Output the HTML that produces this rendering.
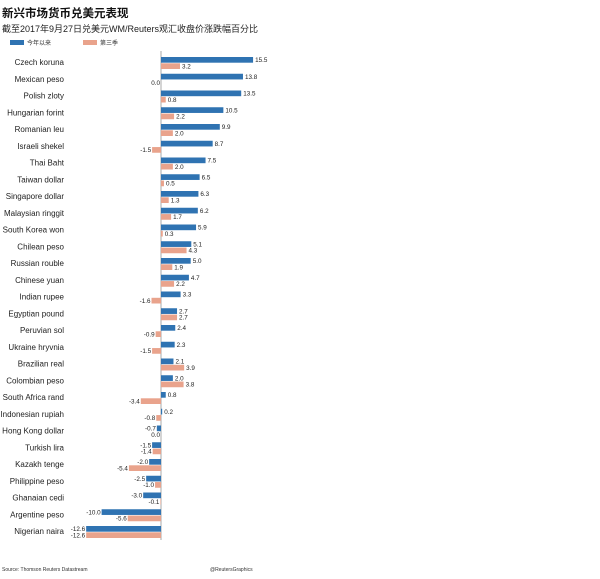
<!DOCTYPE html>
<html><head><meta charset="utf-8"><style>
body{margin:0;background:#fff;width:600px;height:574px;overflow:hidden}
svg text{font-family:"Liberation Sans","Noto Sans CJK SC",sans-serif}
</style></head><body>
<svg id="c" width="600" height="574" xmlns="http://www.w3.org/2000/svg">
<text x="2" y="17" font-size="11.5" font-weight="bold" fill="#111">新兴市场货币兑美元表现</text>
<text x="2" y="32" font-size="9" fill="#222">截至2017年9月27日兑美元WM/Reuters观汇收盘价涨跌幅百分比</text>
<rect x="10" y="40" width="14" height="5" fill="#2f73b2"/>
<text x="27" y="45" font-size="6" fill="#333">今年以来</text>
<rect x="83" y="40" width="14" height="5" fill="#e9a38c"/>
<text x="100" y="45" font-size="6" fill="#333">第三季</text>
<line x1="161" y1="51" x2="161" y2="540" stroke="#aaa" stroke-width="1"/>
<text x="2" y="571" font-size="5" fill="#333">Source: Thomson Reuters Datastream</text>
<text x="210" y="571" font-size="5" fill="#333">@ReutersGraphics</text>
</svg>
<script>
var d=[["Czech koruna",15.5,3.2],["Mexican peso",13.8,0.0],["Polish zloty",13.5,0.8],["Hungarian forint",10.5,2.2],["Romanian leu",9.9,2.0],["Israeli shekel",8.7,-1.5],["Thai Baht",7.5,2.0],["Taiwan dollar",6.5,0.5],["Singapore dollar",6.3,1.3],["Malaysian ringgit",6.2,1.7],["South Korea won",5.9,0.3],["Chilean peso",5.1,4.3],["Russian rouble",5.0,1.9],["Chinese yuan",4.7,2.2],["Indian rupee",3.3,-1.6],["Egyptian pound",2.7,2.7],["Peruvian sol",2.4,-0.9],["Ukraine hryvnia",2.3,-1.5],["Brazilian real",2.1,3.9],["Colombian peso",2.0,3.8],["South Africa rand",0.8,-3.4],["Indonesian rupiah",0.2,-0.8],["Hong Kong dollar",-0.7,0.0],["Turkish lira",-1.5,-1.4],["Kazakh tenge",-2.0,-5.4],["Philippine peso",-2.5,-1.0],["Ghanaian cedi",-3.0,-0.1],["Argentine peso",-10.0,-5.6],["Nigerian naira",-12.6,-12.6]];
var s=document.getElementById('c'),h='',X=161,k=5.94;
d.forEach(function(r,i){var y=57+i*16.75;
h+='<text x="64" y="'+(y+8)+'" font-size="8" text-anchor="end" fill="#222">'+r[0]+'</text>';
[[r[1],y,'#2f73b2'],[r[2],y+6.3,'#e9a38c']].forEach(function(b){var v=b[0],w=Math.abs(v)*k,x=v<0?X-w:X;
h+='<rect x="'+x+'" y="'+b[1]+'" width="'+w+'" height="5.7" fill="'+b[2]+'"/>';
var tx=v>0?X+w+2:X-w-1;h+='<text x="'+tx+'" y="'+(b[1]+5)+'" font-size="6.3" text-anchor="'+(v>0?'start':'end')+'" fill="#222">'+v.toFixed(1)+'</text>';});});
s.insertAdjacentHTML('beforeend',h);
</script>
</body></html>
